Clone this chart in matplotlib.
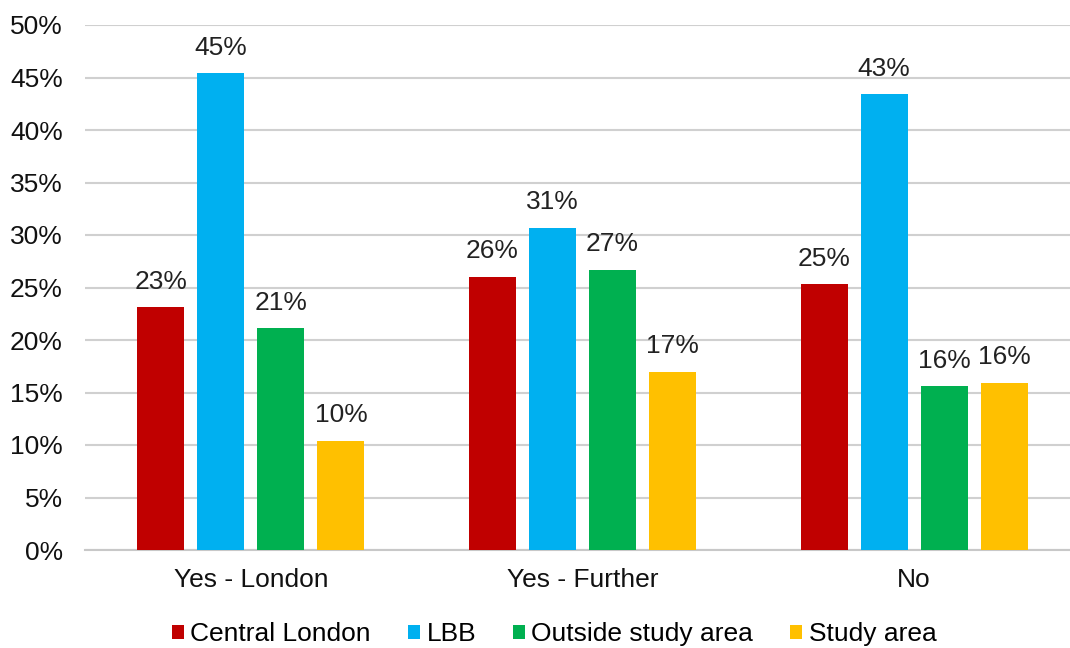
import matplotlib.pyplot as plt
import numpy as np

plt.rcParams['font.family'] = ['Liberation Sans', 'DejaVu Sans']

categories = ['Yes - London', 'Yes - Further', 'No']
series_names = ['Central London', 'LBB', 'Outside study area', 'Study area']
central_london = [23.1, 26.0, 25.3]
lbb = [45.4, 30.7, 43.4]
outside_study = [21.1, 26.7, 15.6]
study_area = [10.4, 17.0, 15.9]
colors = ['#C00000', '#00B0F0', '#00B050', '#FFC000']

fig = plt.figure(figsize=(10.7, 6.48), dpi=100)
ax = fig.add_axes([85 / 1070, 1 - 550 / 648, 995 / 1070, 525 / 648])

x = np.arange(len(categories))
width = 0.142
step = 0.181
all_series = [central_london, lbb, outside_study, study_area]
for i, (vals, name, c) in enumerate(zip(all_series, series_names, colors)):
    pos = x + (i - 1.5) * step
    ax.bar(pos, vals, width, color=c, label=name, zorder=3)
    for p, v in zip(pos, vals):
        ax.text(p, v + 1.3, f'{v:.0f}%', ha='center', va='bottom', fontsize=19, color='#222222')

ax.set_ylim(0, 50)
ax.set_xlim(-0.5, 2.5)
ax.set_yticks(range(0, 51, 5))
ax.set_yticklabels([f'{t}%' for t in range(0, 51, 5)], fontsize=19)
ax.set_xticks(x)
ax.set_xticklabels(categories, fontsize=19)
ax.tick_params(axis='both', length=0, colors='#111111')
ax.tick_params(axis='y', pad=16)
ax.tick_params(axis='x', pad=13)
ax.yaxis.grid(True, color='#D0D0D0', linewidth=1.5, zorder=0)
for s in ['top', 'right', 'left']:
    ax.spines[s].set_visible(False)
ax.spines['bottom'].set_color('#C8C8C8')
ax.spines['bottom'].set_linewidth(1.5)

fig.legend(loc='center', bbox_to_anchor=(0.518, 1 - 634 / 648), ncol=4, frameon=False,
           fontsize=19, handlelength=0.45, handleheight=0.45, handletextpad=0.25,
           columnspacing=1.4)

fig.savefig('out.png', dpi=100)
